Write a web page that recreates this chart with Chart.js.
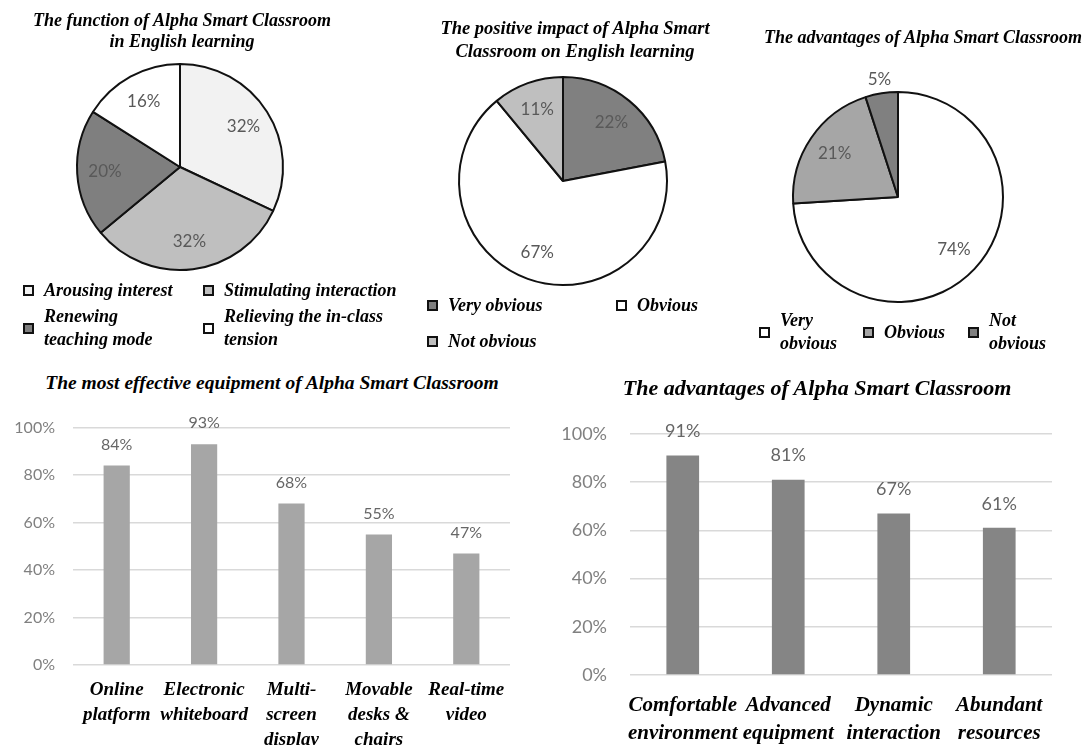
<!DOCTYPE html>
<html>
<head>
<meta charset="utf-8">
<script src="https://cdn.jsdelivr.net/npm/chart.js@4"></script>
<style>
body { margin: 0; background: #fff; }
#page { position: relative; width: 1085px; height: 745px; overflow: hidden; }
canvas { position: absolute; }
.ttl { position: absolute; width: 600px; text-align: center; white-space: nowrap; color: #000;
  font-family: 'Liberation Serif', 'Times New Roman', serif; font-weight: bold; font-style: italic; }
.leg { position: absolute; display: flex; align-items: center; color: #000;
  font: bold italic 18px 'Liberation Serif', 'Times New Roman', serif; line-height: 23px; }
.leg .mk { width: 11px; height: 11px; border: 2px solid #111; box-sizing: border-box; flex: none; margin-right: 10px; }
</style>
</head>
<body>
<div id="page">
  <canvas id="pie1" width="280" height="280" style="left:40px;top:27px"></canvas>
  <canvas id="pie2" width="280" height="280" style="left:423px;top:41px"></canvas>
  <canvas id="pie3" width="280" height="280" style="left:758px;top:57px"></canvas>
  <canvas id="bar1" width="530" height="345" style="left:0px;top:400px"></canvas>
  <canvas id="bar2" width="540" height="345" style="left:545px;top:400px"></canvas>

  <div class="ttl" style="left:-118px;top:10px;font-size:18px;line-height:21px">The function of Alpha Smart Classroom<br>in English learning</div>
  <div class="ttl" style="left:275px;top:17px;font-size:18.5px;line-height:23px">The positive impact of Alpha Smart<br>Classroom on English learning</div>
  <div class="ttl" style="left:623px;top:26px;font-size:18px;line-height:22px">The advantages of Alpha Smart Classroom</div>
  <div class="ttl" style="left:-28px;top:371px;font-size:19.5px;line-height:24px">The most effective equipment of Alpha Smart Classroom</div>
  <div class="ttl" style="left:517px;top:374px;font-size:22px;line-height:27px">The advantages of Alpha Smart Classroom</div>
</div>
<script>
// data
const pie1Labels = ['Arousing interest', 'Stimulating interaction', 'Renewing teaching mode', 'Relieving the in-class tension'];
const pie1Values = [32, 32, 20, 16];
const pie2Labels = ['Very obvious', 'Obvious', 'Not obvious'];
const pie2Values = [22, 67, 11];
const pie3Labels = ['Very obvious', 'Obvious', 'Not obvious'];
const pie3Values = [74, 21, 5];

const equipLabels = [['Online', 'platform'], ['Electronic', 'whiteboard'], ['Multi-', 'screen', 'display'], ['Movable', 'desks &', 'chairs'], ['Real-time', 'video']];
const equipValues = [84, 93, 68, 55, 47];
const advLabels = [['Comfortable', 'environment'], ['Advanced', 'equipment'], ['Dynamic', 'interaction'], ['Abundant', 'resources']];
const advValues = [91, 81, 67, 61];
const yTicks = [0, 20, 40, 60, 80, 100];

const serif = "'Liberation Serif', 'Times New Roman', serif";
Chart.defaults.font.family = "Lato, 'Open Sans', sans-serif";

// percent labels on the slices
const pieLabels = {
  id: 'pieLabels',
  afterDatasetsDraw(chart) {
    const ctx = chart.ctx;
    const vals = chart.data.datasets[0].data;
    ctx.save();
    ctx.font = "17px Lato, 'Open Sans', sans-serif";
    ctx.fillStyle = '#595959';
    ctx.textAlign = 'center';
    ctx.textBaseline = 'middle';
    chart.getDatasetMeta(0).data.forEach((arc, i) => {
      const p = arc.getProps(['x', 'y', 'startAngle', 'endAngle', 'outerRadius']);
      const mid = (p.startAngle + p.endAngle) / 2;
      const f = vals[i] < 8 ? 1.13 : 0.73;
      ctx.fillText(vals[i] + '%', p.x + Math.cos(mid) * p.outerRadius * f, p.y + Math.sin(mid) * p.outerRadius * f);
    });
    ctx.restore();
  }
};

// value labels above the bars
const barLabels = {
  id: 'barLabels',
  afterDatasetsDraw(chart, args, opts) {
    const ctx = chart.ctx;
    const vals = chart.data.datasets[0].data;
    ctx.save();
    ctx.font = opts.size + "px Lato, 'Open Sans', sans-serif";
    ctx.fillStyle = '#666';
    ctx.textAlign = 'center';
    ctx.textBaseline = 'middle';
    chart.getDatasetMeta(0).data.forEach((bar, i) => {
      ctx.fillText(vals[i] + '%', bar.x, bar.y - opts.offset);
    });
    ctx.restore();
  }
};

function pieChart(id, labels, values, colors, pad) {
  new Chart(document.getElementById(id), {
    type: 'pie',
    data: {
      labels: labels,
      datasets: [{ data: values, backgroundColor: colors, borderColor: '#111', borderWidth: 2 }]
    },
    options: {
      responsive: false,
      animation: false,
      layout: { padding: pad },
      plugins: { legend: { display: false }, tooltip: { enabled: false } }
    },
    plugins: [pieLabels]
  });
}

function legend(labels, colors, spots) {
  const page = document.getElementById('page');
  labels.forEach((l, i) => {
    const s = spots[i];
    const d = document.createElement('div');
    d.className = 'leg';
    d.style.left = s.x + 'px';
    d.style.top = s.y + 'px';
    d.innerHTML = '<span class="mk" style="background:' + colors[i] + '"></span><span style="width:' + s.w + 'px">' + l + '</span>';
    page.appendChild(d);
  });
}

function barChart(id, labels, values, color, o) {
  new Chart(document.getElementById(id), {
    type: 'bar',
    data: {
      labels: labels,
      datasets: [{ data: values, backgroundColor: color, barPercentage: o.bar, categoryPercentage: 1 }]
    },
    options: {
      responsive: false,
      animation: false,
      layout: { padding: { top: o.top, right: o.right, left: 0, bottom: 0 } },
      plugins: {
        legend: { display: false },
        tooltip: { enabled: false },
        barLabels: { size: o.valFont, offset: o.valOff }
      },
      scales: {
        x: {
          grid: { display: false },
          border: { display: false },
          ticks: {
            autoSkip: false, maxRotation: 0, minRotation: 0, padding: o.xPad, color: '#000',
            font: { family: serif, size: o.xFont, style: 'italic', weight: 'bold', lineHeight: o.xLh }
          },
          afterFit(s) { s.height = o.xH; }
        },
        y: {
          min: 0, max: 100,
          afterBuildTicks(s) { s.ticks = yTicks.map(v => ({ value: v })); },
          ticks: { padding: o.yPad, color: '#808080', font: { size: o.yFont }, callback: v => v + '%' },
          grid: { color: '#d9d9d9', lineWidth: 1.5, drawTicks: false },
          border: { display: false },
          afterFit(s) { s.width = o.yW; }
        }
      }
    },
    plugins: [barLabels]
  });
}

const pie1Colors = ['#f2f2f2', '#bfbfbf', '#7f7f7f', '#ffffff'];
const pie2Colors = ['#808080', '#ffffff', '#bfbfbf'];
const pie3Colors = ['#ffffff', '#a6a6a6', '#808080'];

pieChart('pie1', pie1Labels, pie1Values, pie1Colors, 36);
pieChart('pie2', pie2Labels, pie2Values, pie2Colors, 35);
pieChart('pie3', pie3Labels, pie3Values, pie3Colors, 34);

legend(pie1Labels, pie1Colors, [
  { x: 23, y: 279, w: 165 }, { x: 203, y: 279, w: 210 },
  { x: 23, y: 305, w: 130 }, { x: 203, y: 305, w: 170 }
]);
legend(pie2Labels, pie2Colors, [
  { x: 427, y: 294, w: 150 }, { x: 616, y: 294, w: 90 }, { x: 427, y: 330, w: 150 }
]);
legend(pie3Labels, pie3Colors, [
  { x: 759, y: 309, w: 64 }, { x: 863, y: 321, w: 80 }, { x: 968, y: 309, w: 64 }
]);

barChart('bar1', equipLabels, equipValues, '#a6a6a6', {
  bar: 0.3, top: 23, right: 20, yW: 73, xH: 80, xPad: 5, xFont: 19, xLh: 1.3,
  yFont: 16, yPad: 18, valFont: 16, valOff: 21
});
barChart('bar2', advLabels, advValues, '#858585', {
  bar: 0.31, top: 33, right: 33, yW: 85, xH: 70, xPad: 8, xFont: 21, xLh: 1.35,
  yFont: 18, yPad: 23, valFont: 18, valOff: 24
});
</script>
</body>
</html>
